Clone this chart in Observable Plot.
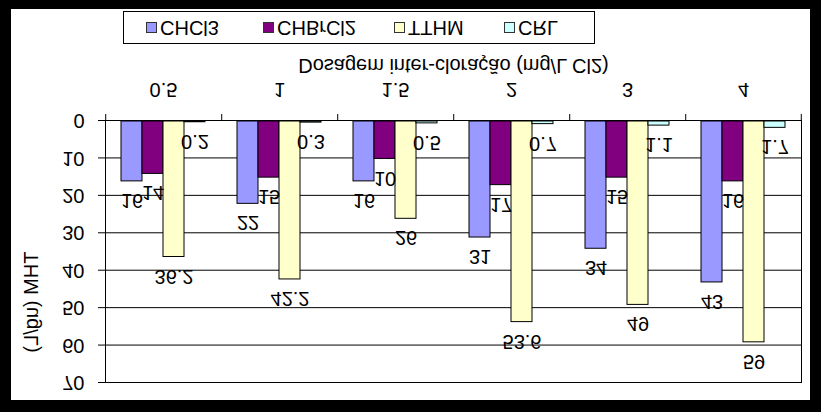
<!DOCTYPE html>
<html><head><meta charset="utf-8">
<script src="https://cdn.jsdelivr.net/npm/d3@7"></script>
<script src="https://cdn.jsdelivr.net/npm/@observablehq/plot@0.6"></script>
<style>
html,body{margin:0;padding:0;background:#000;}
#wrap{position:relative;width:821px;height:412px;background:#000;transform:scaleY(-1);transform-origin:50% 50%;overflow:hidden;font-family:"Liberation Sans",Arial,sans-serif;}
#paper{position:absolute;left:11px;top:12px;width:799px;height:391px;background:#fff;}
#chart{position:absolute;left:0;top:0;}
#legend{position:absolute;left:123px;top:368px;width:470px;height:31px;border:1px solid #000;background:#fff;}
.item{position:absolute;top:0;height:31px;display:flex;align-items:center;font-size:20px;color:#000;white-space:nowrap;}
.sw{width:9px;height:9px;border:1px solid #333;margin-right:3px;}
</style>
</head><body>
<div id="wrap"><div id="paper"></div><div id="chart"></div><div id="legend"></div></div>
<script>
const categories = ["0.5", "1", "1.5", "2", "3", "4"];
const seriesNames = ["CHCl3", "CHBrCl2", "TTHM", "CRL"];
const chcl3 = [16, 22, 16, 31, 34, 43];
const chbrcl2 = [14, 15, 10, 17, 15, 16];
const tthm = [36.2, 42.2, 26, 53.6, 49, 59];
const crl = [0.2, 0.3, 0.5, 0.7, 1.1, 1.7];
const colors = ["#9999FF", "#800080", "#FFFFCC", "#CCFFFF"];
const yTicks = [0, 10, 20, 30, 40, 50, 60, 70];
const legendLefts = [22, 139, 270, 380];
const xTitle = "Dosagem inter-cloração (mg/L Cl2)";
const yTitle = "THM (ug/L)";

const seriesValues = [chcl3, chbrcl2, tthm, crl];
const rows = [];
categories.forEach((c, i) => seriesNames.forEach((s, j) => rows.push({cat: c, series: s, value: seriesValues[j][i]})));

const W = 821, H = 412, mL = 103, mR = 18, mT = 29, mB = 121;
const outer = 0.73;
const facetW = (W - mL - mR) / categories.length;
const step = facetW / (seriesNames.length + 2 * outer);
const edge = (outer + 0.5) * step;
const FS = 20;

const chart = Plot.plot({
  width: W, height: H,
  marginLeft: mL, marginRight: mR, marginTop: mT, marginBottom: mB,
  style: {fontFamily: '"Liberation Sans", Arial, sans-serif', fontSize: FS + "px", color: "#000", background: "transparent"},
  fx: {domain: categories, padding: 0},
  x: {domain: seriesNames, paddingInner: 0, paddingOuter: outer, axis: null},
  y: {domain: [0, 70]},
  color: {domain: seriesNames, range: colors},
  marks: [
    Plot.ruleY(yTicks, {stroke: "#000", strokeWidth: 1}),
    Plot.barY(rows, {fx: "cat", x: "series", y: "value", fill: "series", stroke: "#000", strokeWidth: 1}),
    Plot.text(rows, {fx: "cat", x: "series", y: "value", text: d => String(d.value), dy: -20, fontSize: FS, fill: "#000"}),
    Plot.ruleX(categories, {fx: d => d, x: () => seriesNames[0], y1: 0, y2: 0, insetBottom: -7, dx: -edge, stroke: "#000"}),
    Plot.ruleX([categories[categories.length - 1]], {fx: d => d, x: () => seriesNames[seriesNames.length - 1], y1: 0, y2: 0, insetBottom: -7, dx: edge, stroke: "#000"}),
    Plot.frame({facet: "super", stroke: "#000"}),
    Plot.axisY({ticks: yTicks, tickSize: 7, tickPadding: 14, fontSize: FS, label: null}),
    Plot.text([yTitle], {facet: "super", frameAnchor: "left", rotate: -90, dx: -74, fontSize: FS, fill: "#000"}),
    Plot.axisFx({anchor: "bottom", tickSize: 0, tickPadding: 23, fontSize: FS, label: null}),
    Plot.text([xTitle], {facet: "super", frameAnchor: "bottom", dy: 62, fontSize: FS, fill: "#000"})
  ]
});
document.getElementById("chart").appendChild(chart);

const legend = document.getElementById("legend");
seriesNames.forEach((s, i) => {
  const it = document.createElement("div");
  it.className = "item";
  it.style.left = legendLefts[i] + "px";
  const sw = document.createElement("span");
  sw.className = "sw";
  sw.style.background = colors[i];
  it.appendChild(sw);
  it.appendChild(document.createTextNode(s));
  legend.appendChild(it);
});
</script>
</body></html>
